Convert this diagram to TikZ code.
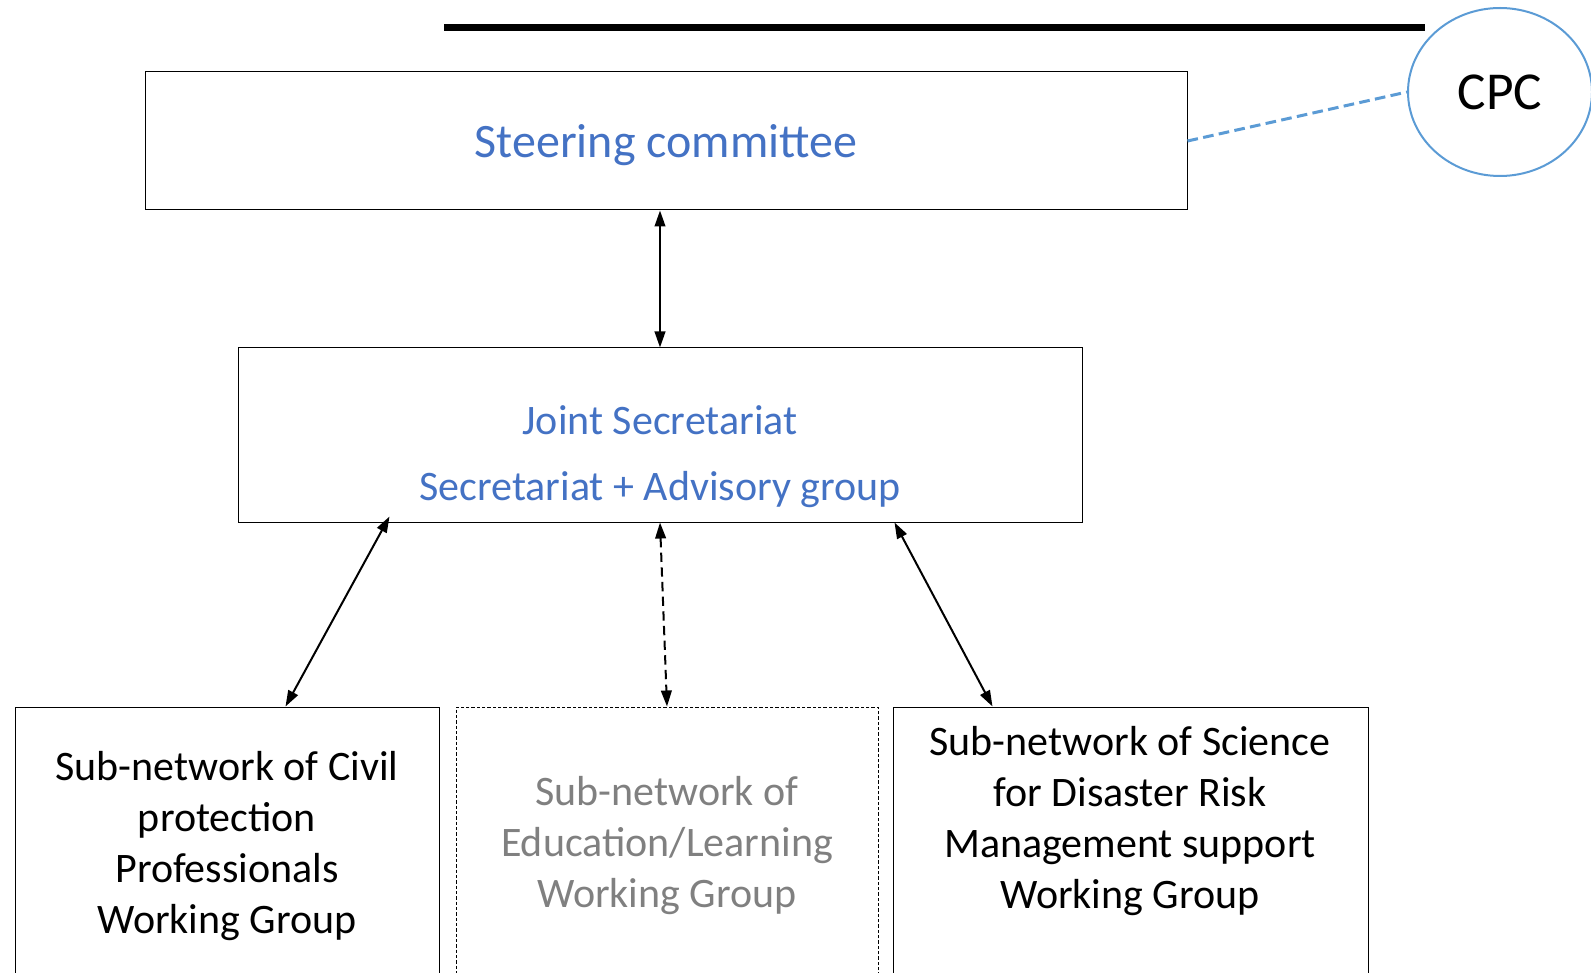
\documentclass[tikz,border=0pt]{standalone}
\usepackage{fontspec}
\setmainfont{Carlito}
\usetikzlibrary{arrows.meta,shapes.geometric}
\definecolor{txtblue}{RGB}{68,114,196}
\definecolor{cpcblue}{RGB}{91,155,213}
\definecolor{wggray}{RGB}{128,128,128}
\tikzset{every picture/.style={line width=0.75pt}}

\begin{document}
\begin{tikzpicture}[x=0.75pt,y=0.75pt,yscale=-1,xscale=1,
    orgbox/.style={draw, inner sep=0pt},
    wglabel/.style={align=center, inner sep=0pt, font=\fontsize{31.5}{38.25}\selectfont},
    linkarrow/.style={line width=1.5pt, {Triangle[length=12pt,width=8pt]}-{Triangle[length=12pt,width=8pt]}}]
        \useasboundingbox (0,0) rectangle (1591,973);
        \clip (0,0) rectangle (1591,973);

        % Title rule
        \fill (444,24) rectangle (1425,31);

        % Boxes
        \node [orgbox, minimum width=781.5pt, minimum height=103.5pt] (steer) at (666,141) {};
        \node [orgbox, minimum width=633pt, minimum height=130.5pt] (joint) at (660,435) {};
        \node [orgbox, minimum width=318pt, minimum height=225pt] (civil) at (227,857) {};
        \node [orgbox, dash pattern={on 2.5pt off 1.5pt}, minimum width=316.5pt, minimum height=225pt] (edu) at (667,857) {};
        \node [orgbox, minimum width=356.25pt, minimum height=225pt] (sci) at (1130.5,857) {};
        \node [ellipse, draw=cpcblue, line width=1.5pt, minimum width=138pt, minimum height=126pt, inner sep=0pt, font=\fontsize{40}{48}\selectfont] (cpc) at (1500,92) {CPC};

        % Text Nodes
        \node [inner sep=0pt, text=txtblue, font=\fontsize{36}{43}\selectfont] (steertxt) at (666,145) {Steering committee};
        \node [align=center, inner sep=0pt, text=txtblue, font=\fontsize{31.5}{49.5}\selectfont] (jointtxt) at (660,457) {Joint Secretariat\\Secretariat + Advisory group};
        \node [wglabel] (civiltxt) at (227,846) {Sub-network of Civil\\protection\\Professionals\\Working Group};
        \node [wglabel, text=wggray] (edutxt) at (667,846) {Sub-network of\\Education/Learning\\Working Group};
        \node [wglabel] (scitxt) at (1130,821) {Sub-network of Science\\for Disaster Risk\\Management support\\Working Group};

        % Connectors
        \draw [cpcblue, line width=2.25pt, dash pattern={on 8pt off 4pt}] (steer.east) -- (cpc.west);
        \draw [linkarrow] (joint.north |- steer.south) -- (joint.north);
        \draw [linkarrow] ([xshift=114pt,yshift=-4.5pt]joint.south west) -- ([xshift=203.25pt]civil.north west);
        \draw [linkarrow, dash pattern={on 7pt off 4pt}] (joint.south) -- (edu.north);
        \draw [linkarrow] ([xshift=492.75pt]joint.south west) -- ([xshift=75pt]sci.north west);

\end{tikzpicture}
\end{document}
